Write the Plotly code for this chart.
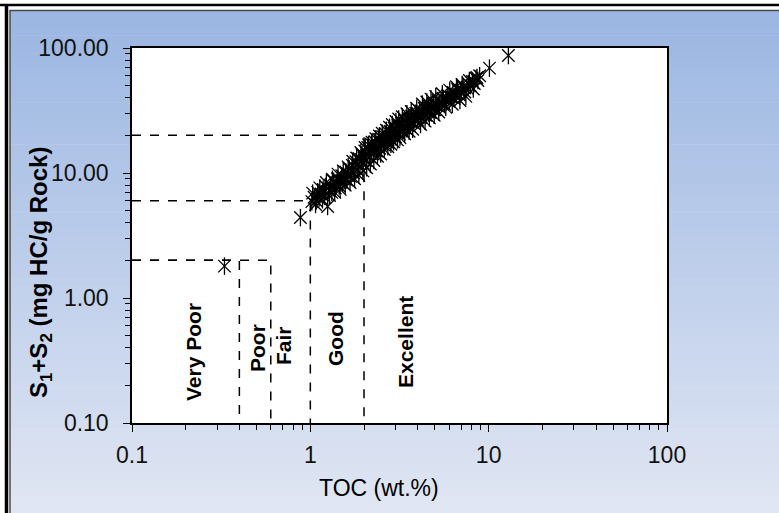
import plotly.graph_objects as go

# ---- data ----
toc = [0.33, 0.88, 1.02, 1.05, 1.08, 1.10, 1.12, 1.15, 1.18, 1.20, 1.22, 1.25, 1.27, 1.30, 1.32,
       1.35, 1.38, 1.40, 1.42, 1.45, 1.48, 1.50, 1.52, 1.55, 1.58, 1.60, 1.62, 1.65, 1.68, 1.70,
       1.72, 1.75, 1.78, 1.80, 1.83, 1.85, 1.88, 1.90, 1.93, 1.95, 1.98, 2.00, 2.02, 2.05, 2.08,
       2.10, 2.15, 2.18, 2.20, 2.25, 2.28, 2.30, 2.35, 2.40, 2.42, 2.45, 2.50, 2.55, 2.58, 2.62,
       2.65, 2.70, 2.75, 2.80, 2.85, 2.90, 2.95, 3.00, 3.05, 3.10, 3.15, 3.20, 3.25, 3.30, 3.35,
       3.40, 3.45, 3.50, 3.55, 3.60, 3.65, 3.70, 3.80, 3.85, 3.90, 4.00, 4.05, 4.10, 4.20, 4.30,
       4.35, 4.45, 4.55, 4.60, 4.70, 4.80, 4.90, 5.00, 5.10, 5.20, 5.30, 5.45, 5.55, 5.65, 5.80,
       5.90, 6.00, 6.15, 6.30, 6.40, 6.55, 6.70, 6.85, 7.00, 7.20, 7.35, 7.55, 7.70, 7.90, 8.10,
       8.30, 8.50, 8.70, 8.90, 10.1, 12.9,
       1.03, 1.07, 1.13, 1.17, 1.23, 1.28, 1.33, 1.37, 1.43, 1.47, 1.53, 1.57, 1.63, 1.67, 1.73,
       1.77, 1.82, 1.87, 1.92, 1.97, 2.03, 2.07, 2.12, 2.17, 2.22, 2.27, 2.33, 2.38, 2.44, 2.48,
       2.53, 2.60, 2.67, 2.72, 2.78, 2.83, 2.88, 2.93, 3.02, 3.08, 3.13, 3.18, 3.28, 3.38, 3.48,
       3.58, 3.68, 3.75, 3.95, 4.15, 4.25, 4.40, 4.50, 4.65, 4.75, 4.95, 5.05, 5.25, 5.50, 5.75,
       6.05, 6.25, 6.60, 6.90, 7.10, 7.45, 7.80, 8.20, 8.60]
s1s2 = [1.8, 4.4, 5.9, 6.4, 6.0, 7.0, 6.3, 6.8, 7.4, 6.5, 7.8, 5.4, 7.2, 8.0, 7.0,
        8.6, 7.6, 8.2, 9.0, 7.9, 8.7, 9.5, 8.3, 9.1, 10.2, 8.8, 9.7, 10.8, 9.4, 10.3,
        11.5, 10.0, 11.0, 12.3, 10.6, 11.8, 13.0, 11.2, 12.5, 14.0, 12.0, 13.2, 15.0, 12.6, 13.8,
        16.0, 13.5, 14.8, 17.0, 14.2, 15.6, 17.8, 15.0, 16.5, 18.6, 15.8, 17.2, 19.5, 16.8, 18.2,
        20.5, 17.6, 19.2, 21.5, 18.5, 20.2, 22.8, 19.5, 21.2, 24.0, 20.5, 22.4, 25.0, 21.8, 23.5,
        26.2, 22.6, 24.6, 27.5, 23.8, 25.8, 28.6, 25.0, 27.0, 30.0, 26.5, 28.5, 31.5, 27.8, 30.0,
        33.0, 29.0, 31.5, 34.5, 30.5, 33.0, 36.0, 32.0, 34.8, 38.0, 33.5, 36.5, 39.5, 35.5, 38.5,
        42.0, 37.5, 40.5, 44.0, 39.5, 42.5, 46.5, 42.0, 45.0, 49.0, 44.5, 48.0, 52.0, 50.0, 54.0,
        52.0, 57.0, 55.0, 60.0, 69.0, 87.0,
        6.9, 5.6, 7.6, 6.1, 8.4, 6.6, 8.9, 7.0, 9.8, 7.4, 10.4, 8.0, 11.2, 8.4, 12.4,
        9.0, 13.2, 9.6, 14.6, 10.4, 16.0, 11.0, 16.8, 11.8, 17.6, 12.6, 18.8, 13.6, 19.8, 14.2,
        20.8, 15.4, 22.0, 16.2, 23.2, 17.0, 24.4, 17.8, 25.8, 18.4, 27.0, 19.2, 28.2, 20.6, 29.8,
        21.6, 31.0, 22.4, 33.0, 24.4, 35.6, 26.0, 37.0, 27.6, 39.0, 29.0, 41.0, 30.8, 43.0, 33.5,
        46.0, 35.5, 49.0, 38.0, 51.0, 41.0, 55.0, 47.0, 58.0]

# class boundaries (TOC limit, S1+S2 limit)
bound_toc = [0.4, 0.6, 1.0, 2.0]
bound_s = [2.0, 2.0, 6.0, 20.0]
class_names = ["Very Poor", "Poor", "Fair", "Good", "Excellent"]
axis_min = 0.1

x_tickvals = [0.1, 1, 10, 100]
x_ticktext = ["0.1", "1", "10", "100"]
y_tickvals = [0.1, 1, 10, 100]
y_ticktext = ["0.10", "1.00", "10.00", "100.00"]

# ---- layout geometry (pixels) ----
W, H = 779, 513
L, R, T, B = 132, 667, 48, 423
PW, PH = R - L, B - T


def px(xp):
    return (xp - L) / PW


def py(yp):
    return (B - yp) / PH


FONT = "Liberation Sans, Arial, sans-serif"

fig = go.Figure()

# boundary dashed lines
for t, s in zip(bound_toc, bound_s):
    fig.add_trace(go.Scatter(
        x=[axis_min, t, t], y=[s, s, axis_min], mode="lines",
        line=dict(color="black", width=1.5, dash="dash"),
        hoverinfo="skip", showlegend=False))

# data: Excel-like star marker = x + vertical line
for sym in ["x-thin-open", "line-ns-open"]:
    fig.add_trace(go.Scatter(x=toc, y=s1s2, mode="markers", showlegend=False,
                             cliponaxis=False,
                             marker=dict(symbol=sym, size=12.5, color="black",
                                         line=dict(color="black", width=1.3))))

# ---- background gradient & frame ----
shapes = []
top_c = (155, 182, 226)
bot_c = (224, 230, 243)
n = 60
y_start, y_end = 10, H
for i in range(n):
    f = i / (n - 1)
    c = tuple(round(top_c[k] + (bot_c[k] - top_c[k]) * f) for k in range(3))
    y0 = y_start + (y_end - y_start) * i / n
    y1 = y_start + (y_end - y_start) * (i + 1) / n + 0.6
    shapes.append(dict(type="rect", xref="paper", yref="paper",
                       x0=px(10), x1=px(W + 2), y0=py(y1), y1=py(y0),
                       line=dict(width=0), fillcolor="rgb(%d,%d,%d)" % c, layer="below"))
# white plot area
shapes.append(dict(type="rect", xref="paper", yref="paper", x0=0, x1=1, y0=0, y1=1,
                   line=dict(width=0), fillcolor="white", layer="below"))
# gray inner frame
shapes.append(dict(type="line", xref="paper", yref="paper", x0=px(9.5), x1=px(W + 2),
                   y0=py(10.5), y1=py(10.5), line=dict(color="#4a4a4a", width=1.5)))
shapes.append(dict(type="line", xref="paper", yref="paper", x0=px(10), x1=px(10),
                   y0=py(10), y1=py(H + 2), line=dict(color="#4a4a4a", width=1.5)))
# black outer lines
shapes.append(dict(type="line", xref="paper", yref="paper", x0=px(0), x1=px(W + 2),
                   y0=py(5), y1=py(5), line=dict(color="black", width=2.5)))
shapes.append(dict(type="line", xref="paper", yref="paper", x0=px(6.5), x1=px(6.5),
                   y0=py(5), y1=py(H + 2), line=dict(color="black", width=3.5)))

# ---- annotations ----
ann = []
label_pos = [(193, 352), (257, 348), (283, 346), (335, 339), (405, 342)]
for name, (xp_, yp_) in zip(class_names, label_pos):
    ann.append(dict(text="<b>%s</b>" % name, xref="paper", yref="paper",
                    x=px(xp_), y=py(yp_), textangle=-90, showarrow=False,
                    xanchor="center", yanchor="middle",
                    font=dict(family=FONT, size=21, color="black")))
ann.append(dict(text="<b>S<sub>1</sub>+S<sub>2</sub> (mg HC/g Rock)</b>", xref="paper",
                yref="paper", x=px(40), y=py(273), textangle=-90, showarrow=False,
                xanchor="center", yanchor="middle",
                font=dict(family=FONT, size=24, color="black")))
ann.append(dict(text="TOC (wt.%)", xref="paper", yref="paper", x=px(379), y=py(488),
                showarrow=False, xanchor="center", yanchor="middle",
                font=dict(family=FONT, size=23, color="black")))

axis_common = dict(type="log", range=[-1, 2], showgrid=False, zeroline=False,
                   showline=True, linecolor="black", linewidth=1.5, mirror=True,
                   ticks="outside", ticklen=7, tickwidth=1.3, tickcolor="black",
                   minor=dict(ticks="outside", ticklen=5, tickwidth=1, tickcolor="black",
                              dtick="D1", showgrid=False),
                   tickfont=dict(family=FONT, size=23, color="#111"))

fig.update_layout(
    width=W, height=H,
    margin=dict(l=L, r=W - R, t=T, b=H - B),
    paper_bgcolor="white", plot_bgcolor="white",
    showlegend=False,
    xaxis=dict(**axis_common, tickvals=x_tickvals, ticktext=x_ticktext,
               ticklabelstandoff=4),
    yaxis=dict(**axis_common, tickvals=y_tickvals, ticktext=y_ticktext,
               ticklabelstandoff=10),
    shapes=shapes,
    annotations=ann,
)

fig.write_html("out.html")
